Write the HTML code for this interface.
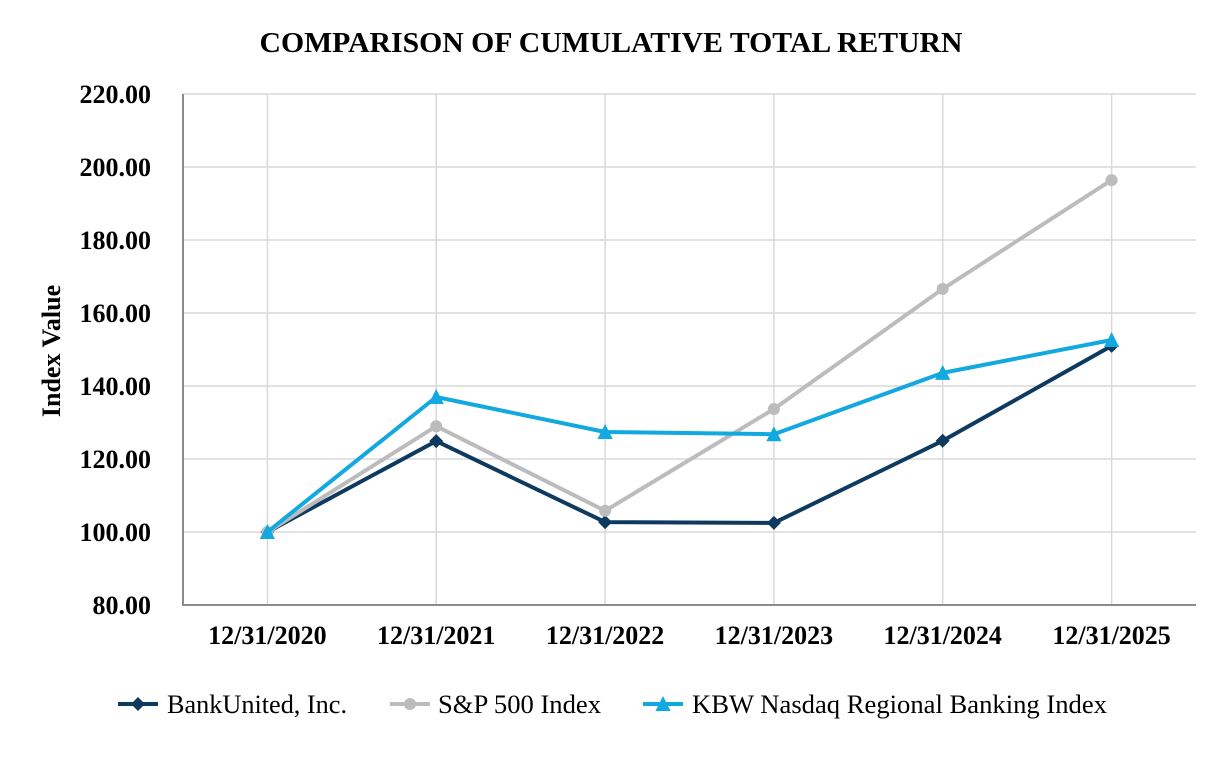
<!DOCTYPE html>
<html>
<head>
<meta charset="utf-8">
<style>
html,body{margin:0;padding:0;background:#fff;}
svg{display:block;}
text{font-family:"Liberation Serif","Times New Roman",serif;fill:#000;}
</style>
</head>
<body>
<svg width="1226" height="760" viewBox="0 0 1226 760" xmlns="http://www.w3.org/2000/svg">
<rect width="1226" height="760" fill="#fff"/>
<text x="611" y="52" font-size="29" font-weight="bold" text-anchor="middle" textLength="703" lengthAdjust="spacingAndGlyphs">COMPARISON OF CUMULATIVE TOTAL RETURN</text>

<!-- horizontal gridlines -->
<g stroke="#d9d9d9" stroke-width="1.5">
<line x1="183" y1="94" x2="1196" y2="94"/>
<line x1="183" y1="167" x2="1196" y2="167"/>
<line x1="183" y1="240" x2="1196" y2="240"/>
<line x1="183" y1="313" x2="1196" y2="313"/>
<line x1="183" y1="386" x2="1196" y2="386"/>
<line x1="183" y1="459" x2="1196" y2="459"/>
<line x1="183" y1="532" x2="1196" y2="532"/>
<!-- vertical gridlines -->
<line x1="267.4" y1="94" x2="267.4" y2="605"/>
<line x1="436.2" y1="94" x2="436.2" y2="605"/>
<line x1="605.1" y1="94" x2="605.1" y2="605"/>
<line x1="773.9" y1="94" x2="773.9" y2="605"/>
<line x1="942.7" y1="94" x2="942.7" y2="605"/>
<line x1="1111.6" y1="94" x2="1111.6" y2="605"/>
</g>
<!-- axes -->
<g stroke="#8c8c8c" stroke-width="2">
<line x1="183" y1="94" x2="183" y2="606"/>
<line x1="182" y1="605" x2="1196" y2="605"/>
</g>

<!-- y labels -->
<g font-size="26" font-weight="bold" text-anchor="end">
<text x="151" y="103">220.00</text>
<text x="151" y="176">200.00</text>
<text x="151" y="249">180.00</text>
<text x="151" y="322">160.00</text>
<text x="151" y="395">140.00</text>
<text x="151" y="468">120.00</text>
<text x="151" y="541">100.00</text>
<text x="151" y="614">80.00</text>
</g>
<text transform="translate(60,351) rotate(-90)" font-size="26" font-weight="bold" text-anchor="middle">Index Value</text>

<!-- x labels -->
<g font-size="26" font-weight="bold" text-anchor="middle">
<text x="267.4" y="644">12/31/2020</text>
<text x="436.2" y="644">12/31/2021</text>
<text x="605.1" y="644">12/31/2022</text>
<text x="773.9" y="644">12/31/2023</text>
<text x="942.7" y="644">12/31/2024</text>
<text x="1111.6" y="644">12/31/2025</text>
</g>

<!-- BankUnited -->
<polyline fill="none" stroke="#0e3a5f" stroke-width="4" stroke-linejoin="round" points="267.4,532 436.2,441.1 605.1,522.1 773.9,522.9 942.7,440.8 1111.6,345.9"/>
<g fill="#0e3a5f">
<polygon points="267.4,525 274.4,532 267.4,539 260.4,532"/>
<polygon points="436.2,434.1 443.2,441.1 436.2,448.1 429.2,441.1"/>
<polygon points="605.1,515.1 612.1,522.1 605.1,529.1 598.1,522.1"/>
<polygon points="773.9,515.9 780.9,522.9 773.9,529.9 766.9,522.9"/>
<polygon points="942.7,433.8 949.7,440.8 942.7,447.8 935.7,440.8"/>
<polygon points="1111.6,338.9 1118.6,345.9 1111.6,352.9 1104.6,345.9"/>
</g>

<!-- S&P 500 -->
<polyline fill="none" stroke="#bcbcbc" stroke-width="4" stroke-linejoin="round" points="267.4,532 436.2,426.2 605.1,510.8 773.9,409 942.7,288.9 1111.6,180.1"/>
<g fill="#bcbcbc">
<circle cx="267.4" cy="532" r="6"/>
<circle cx="436.2" cy="426.2" r="6"/>
<circle cx="605.1" cy="510.8" r="6"/>
<circle cx="773.9" cy="409" r="6"/>
<circle cx="942.7" cy="288.9" r="6"/>
<circle cx="1111.6" cy="180.1" r="6"/>
</g>

<!-- KBW -->
<polyline fill="none" stroke="#12a8e0" stroke-width="4" stroke-linejoin="round" points="267.4,532 436.2,397 605.1,432 773.9,434.2 942.7,372.9 1111.6,340"/>
<g fill="#12a8e0">
<polygon points="267.4,524 275,539 259.8,539"/>
<polygon points="436.2,389 443.8,404 428.6,404"/>
<polygon points="605.1,424 612.7,439 597.5,439"/>
<polygon points="773.9,426.2 781.5,441.2 766.3,441.2"/>
<polygon points="942.7,364.9 950.3,379.9 935.1,379.9"/>
<polygon points="1111.6,332 1119.2,347 1104,347"/>
</g>

<!-- legend -->
<line x1="118" y1="704" x2="158" y2="704" stroke="#0e3a5f" stroke-width="4"/>
<polygon points="138,697 145,704 138,711 131,704" fill="#0e3a5f"/>
<text x="167" y="713" font-size="26" textLength="180" lengthAdjust="spacingAndGlyphs">BankUnited, Inc.</text>

<line x1="390" y1="704" x2="430" y2="704" stroke="#bcbcbc" stroke-width="4"/>
<circle cx="410" cy="704" r="6" fill="#bcbcbc"/>
<text x="438" y="713" font-size="26" textLength="163" lengthAdjust="spacingAndGlyphs">S&amp;P 500 Index</text>

<line x1="643" y1="704" x2="683" y2="704" stroke="#12a8e0" stroke-width="4"/>
<polygon points="663,696 670.6,711 655.4,711" fill="#12a8e0"/>
<text x="692" y="713" font-size="26.5" textLength="415" lengthAdjust="spacingAndGlyphs">KBW Nasdaq Regional Banking Index</text>
</svg>
</body>
</html>
